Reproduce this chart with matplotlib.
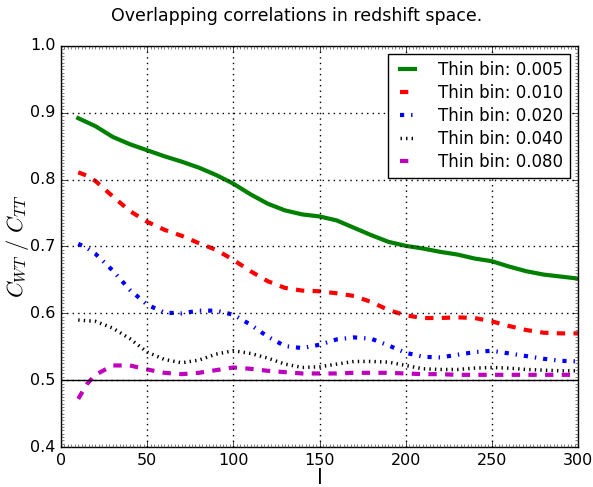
import matplotlib
matplotlib.use("Agg")
import matplotlib.pyplot as plt
from matplotlib.ticker import MultipleLocator

plt.style.use('classic')
plt.rcParams['mathtext.fontset'] = 'cm'

ell = [10, 15, 20, 30, 40, 50, 60, 70, 80, 90, 100, 110, 120, 130, 140, 150,
       160, 170, 180, 190, 200, 210, 220, 230, 240, 250, 260, 270, 280, 290, 300]

bin_005 = [0.892, 0.886, 0.880, 0.864, 0.853, 0.844, 0.835, 0.827, 0.818, 0.807, 0.794,
           0.778, 0.764, 0.754, 0.748, 0.745, 0.739, 0.728, 0.717, 0.707, 0.701,
           0.697, 0.692, 0.688, 0.682, 0.678, 0.670, 0.663, 0.658, 0.655, 0.652]
bin_010 = [0.811, 0.806, 0.798, 0.775, 0.753, 0.737, 0.725, 0.716, 0.705, 0.695, 0.680,
           0.663, 0.648, 0.638, 0.634, 0.633, 0.630, 0.626, 0.617, 0.605, 0.597,
           0.593, 0.593, 0.594, 0.593, 0.588, 0.581, 0.575, 0.571, 0.570, 0.570]
bin_020 = [0.704, 0.698, 0.689, 0.664, 0.635, 0.613, 0.601, 0.600, 0.604, 0.604, 0.598,
           0.583, 0.565, 0.551, 0.548, 0.553, 0.561, 0.564, 0.562, 0.552, 0.541,
           0.535, 0.534, 0.538, 0.542, 0.544, 0.540, 0.536, 0.532, 0.529, 0.528]
bin_040 = [0.590, 0.589, 0.588, 0.578, 0.562, 0.542, 0.531, 0.526, 0.530, 0.539, 0.544,
           0.540, 0.533, 0.524, 0.519, 0.520, 0.524, 0.528, 0.528, 0.527, 0.522,
           0.517, 0.516, 0.516, 0.518, 0.519, 0.518, 0.516, 0.515, 0.514, 0.514]
bin_080 = [0.472, 0.494, 0.508, 0.522, 0.522, 0.516, 0.511, 0.509, 0.511, 0.515, 0.519,
           0.517, 0.514, 0.512, 0.510, 0.510, 0.510, 0.511, 0.511, 0.511, 0.510,
           0.509, 0.509, 0.508, 0.508, 0.508, 0.508, 0.508, 0.508, 0.508, 0.508]

labels = ["Thin bin: 0.005", "Thin bin: 0.010", "Thin bin: 0.020", "Thin bin: 0.040", "Thin bin: 0.080"]

fig = plt.figure(figsize=(5.93, 4.87), dpi=100, facecolor='white')
ax = fig.add_axes([61/593, 1-447/487, (578-61)/593, (447-46)/487])
ax.set_facecolor('white')

ax.plot(ell, bin_005, color='green', lw=3, ls='-', label=labels[0])
ax.plot(ell, bin_010, color='red', lw=3, ls='--', label=labels[1])
ax.plot(ell, bin_020, color='blue', lw=3, ls='-.', label=labels[2])
ax.plot(ell, bin_040, color='black', lw=2.5, ls=':', label=labels[3])
ax.plot(ell, bin_080, color='m', lw=3, ls='--', label=labels[4])

ax.axhline(0.5, color='black', lw=1)

ax.set_xlim(0, 300)
ax.set_ylim(0.4, 1.0)
ax.xaxis.set_major_locator(MultipleLocator(50))
ax.yaxis.set_major_locator(MultipleLocator(0.1))
ax.xaxis.set_minor_locator(MultipleLocator(2))
ax.yaxis.set_minor_locator(MultipleLocator(0.005))
ax.tick_params(which='minor', length=2, color='0.3')
ax.tick_params(which='major', length=4, labelsize=11.5)
ax.grid(True, which='major', color='black', ls=':', lw=1)

ax.set_xlabel('l', fontsize=15, labelpad=0)
ax.set_ylabel(r'$C_{WT}\ /\ C_{TT}$', fontsize=16)
ax.yaxis.set_label_coords(-0.058, 0.5)
fig.suptitle('Overlapping correlations in redshift space.', fontsize=12.5, y=0.985)

leg = ax.legend(loc='upper right', fontsize=12, handlelength=1.5, handletextpad=1.1,
                labelspacing=0.3, frameon=True)
leg.get_frame().set_edgecolor('black')

fig.savefig('out.png', dpi=100, facecolor='white')
